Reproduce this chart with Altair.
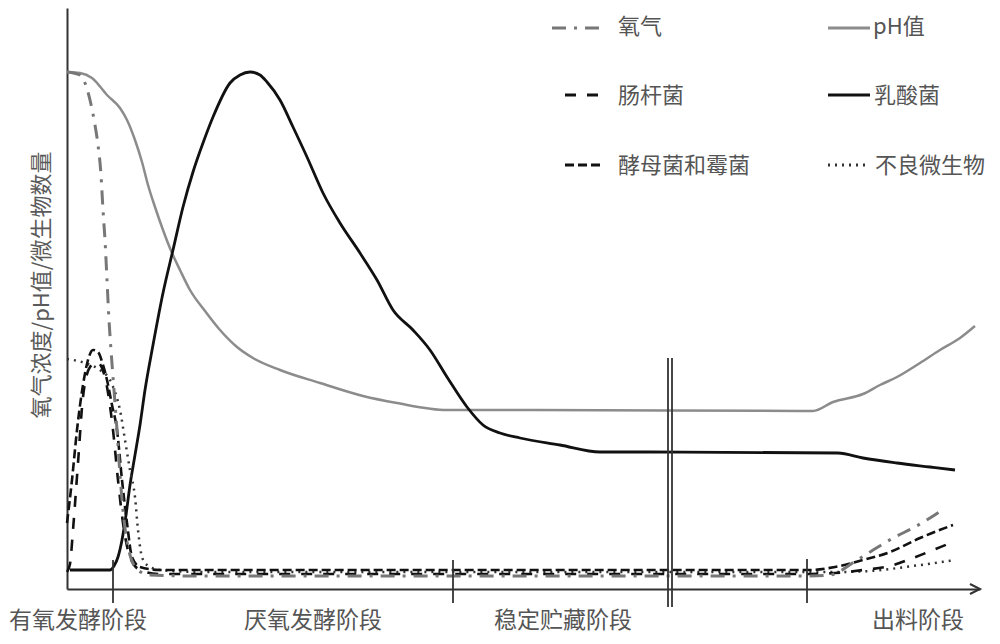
import altair as alt
import pandas as pd

FONT = "Noto Sans CJK SC"

# ---- data (time in arbitrary units 0..913, level in arbitrary units 0..581) ----
oxygen_t = [0, 13, 18, 23, 28, 31, 34, 36, 38, 40, 42, 44, 47, 50, 53, 57, 63, 71, 83, 133, 743, 763, 790, 811, 828, 846, 863, 878]
oxygen_v = [517, 514, 506, 489, 464, 444, 414, 379, 349, 309, 269, 239, 199, 159, 114, 69, 34, 19, 14, 13, 13, 14, 29, 42, 52, 61, 71, 81]

ph_t = [0, 13, 25, 40, 53, 60, 68, 75, 81, 88, 96, 105, 113, 123, 138, 153, 170, 186, 213, 253, 296, 330, 380, 453, 746, 766, 796, 813, 830, 853, 873, 893, 908]
ph_v = [517, 516, 511, 494, 481, 469, 449, 427, 404, 382, 359, 336, 319, 299, 278, 259, 242, 231, 219, 206, 193, 186, 179, 179, 178, 187, 195, 204, 212, 226, 239, 251, 263]

ecoli_t = [0, 3, 6, 11, 16, 23, 30, 35, 40, 46, 51, 56, 63, 73, 93, 743, 768, 796, 823, 846, 866, 886]
ecoli_v = [17, 25, 59, 126, 192, 222, 227, 221, 202, 159, 109, 66, 32, 19, 15, 15, 16, 19, 23, 31, 39, 47]

lactic_t = [3, 43, 47, 51, 55, 59, 63, 68, 73, 78, 86, 96, 106, 116, 126, 136, 146, 163, 173, 183, 193, 200, 213, 226, 240, 256, 273, 293, 310, 326, 346, 363, 380, 400, 416, 433, 453, 493, 533, 583, 771, 796, 830, 863, 888]
lactic_v = [19, 19, 23, 32, 49, 74, 104, 134, 164, 199, 244, 296, 339, 382, 417, 446, 472, 506, 514, 517, 514, 507, 489, 462, 432, 396, 366, 336, 309, 279, 259, 239, 212, 182, 164, 156, 151, 144, 137, 137, 136, 131, 126, 122, 119]

yeast_t = [0, 5, 10, 16, 21, 26, 31, 36, 40, 45, 50, 55, 60, 65, 73, 93, 743, 768, 796, 823, 853, 886]
yeast_v = [66, 109, 159, 204, 229, 239, 237, 224, 209, 184, 159, 109, 66, 32, 22, 19, 19, 22, 29, 37, 51, 64]

bad_t = [0, 18, 33, 43, 49, 53, 58, 63, 68, 71, 75, 80, 93, 133, 743, 773, 803, 846, 888]
bad_v = [230, 226, 219, 209, 194, 179, 149, 119, 92, 59, 32, 24, 19, 17, 17, 17, 18, 23, 29]

series_names = ["氧气", "pH值", "肠杆菌", "乳酸菌", "酵母菌和霉菌", "不良微生物"]
series_data = {
    "氧气": (oxygen_t, oxygen_v),
    "pH值": (ph_t, ph_v),
    "肠杆菌": (ecoli_t, ecoli_v),
    "乳酸菌": (lactic_t, lactic_v),
    "酵母菌和霉菌": (yeast_t, yeast_v),
    "不良微生物": (bad_t, bad_v),
}

# stage boundaries (time) and tick extents (level)
bnd_t = [46, 386, 601, 605, 740]
bnd_top = [29, 29, 231, 231, 30]
bnd_bot = [-14, -14, -18, -18, -14]

stage_names = ["有氧发酵阶段", "厌氧发酵阶段", "稳定贮藏阶段", "出料阶段"]
stage_anchor_t = [11, 246, 496, 851]

# ---- styles ----
styles = {
    "氧气": dict(color="#777777", strokeWidth=3, strokeDash=[14, 8, 3, 8]),
    "pH值": dict(color="#8c8c8c", strokeWidth=2.5),
    "肠杆菌": dict(color="#111111", strokeWidth=2.6, strokeDash=[11, 11]),
    "乳酸菌": dict(color="#111111", strokeWidth=2.8),
    "酵母菌和霉菌": dict(color="#111111", strokeWidth=2.6, strokeDash=[9, 4]),
    "不良微生物": dict(color="#333333", strokeWidth=2.5, strokeDash=[2, 5]),
}
draw_order = ["pH值", "乳酸菌", "不良微生物", "肠杆菌", "酵母菌和霉菌", "氧气"]

W, H = 913, 581
xs = alt.Scale(domain=[0, W], nice=False, zero=False)
ys = alt.Scale(domain=[0, H], nice=False, zero=False)

layers = []
for name in draw_order:
    t, v = series_data[name]
    df = pd.DataFrame({"t": t, "v": v})
    layers.append(
        alt.Chart(df).mark_line(interpolate="monotone", **styles[name]).encode(
            x=alt.X("t:Q", scale=xs, title=None),
            y=alt.Y("v:Q", scale=ys, title=None),
        )
    )

# stage boundary ticks
bdf = pd.DataFrame({"t": bnd_t, "v": bnd_top, "v2": bnd_bot})
layers.append(
    alt.Chart(bdf).mark_rule(color="#333333", strokeWidth=1.8).encode(
        x=alt.X("t:Q", scale=xs, title=None),
        y=alt.Y("v:Q", scale=ys, title=None),
        y2="v2:Q",
    )
)

# stage labels
sdf = pd.DataFrame({"t": stage_anchor_t, "name": stage_names})
layers.append(
    alt.Chart(sdf).mark_text(font=FONT, fontSize=23, fill="#555555", align="center", baseline="alphabetic").encode(
        x=alt.X("t:Q", scale=xs, title=None),
        y=alt.value(620),
        text="name:N",
    )
)

one = pd.DataFrame({"a": [0]})

# x-axis arrow head
layers.append(
    alt.Chart(one).mark_point(shape="M-1,-1L1,0L-1,1", size=100, filled=False, color="#333333", strokeWidth=2, opacity=1).encode(
        x=alt.value(908), y=alt.value(H)
    )
)

# y title
layers.append(
    alt.Chart(one).mark_text(text="氧气浓度/pH值/微生物数量", font=FONT, fontSize=22, fill="#5a5a5a",
                             angle=270, align="center", baseline="middle").encode(
        x=alt.value(-25), y=alt.value(277)
    )
)

# custom legend (2 columns x 3 rows)
legend_layout = {
    "氧气": (552, 603, 618, 28, 27),
    "肠杆菌": (565, 600, 618, 95, 96),
    "酵母菌和霉菌": (565, 600, 618, 165, 166),
    "pH值": (828, 870, 873, 28, 27),
    "乳酸菌": (828, 870, 874, 95, 96),
    "不良微生物": (828, 868, 875, 165, 166),
}
for name in series_names:
    x1, x2, tx, sy, ty = legend_layout[name]
    st = dict(styles[name])
    st["strokeWidth"] = 3
    layers.append(
        alt.Chart(one).mark_rule(**st).encode(
            x=alt.value(x1 - 67), x2=alt.value(x2 - 67), y=alt.value(sy - 8)
        )
    )
    layers.append(
        alt.Chart(one).mark_text(text=name, font=FONT, fontSize=22, fill="#555555",
                                 align="left", baseline="middle").encode(
            x=alt.value(tx - 67), y=alt.value(ty - 8)
        )
    )

chart = alt.layer(*layers).properties(
    width=W, height=H,
    autosize=alt.AutoSizeParams(type="none"),
    padding={"left": 59, "top": 0, "right": 12, "bottom": 47},
).configure_view(stroke=None).configure_axis(
    labels=False, ticks=False, grid=False, domain=True,
    domainColor="#333333", domainWidth=2, title=None,
)

chart.save("out.html", embed_options={"renderer": "svg", "actions": False})
